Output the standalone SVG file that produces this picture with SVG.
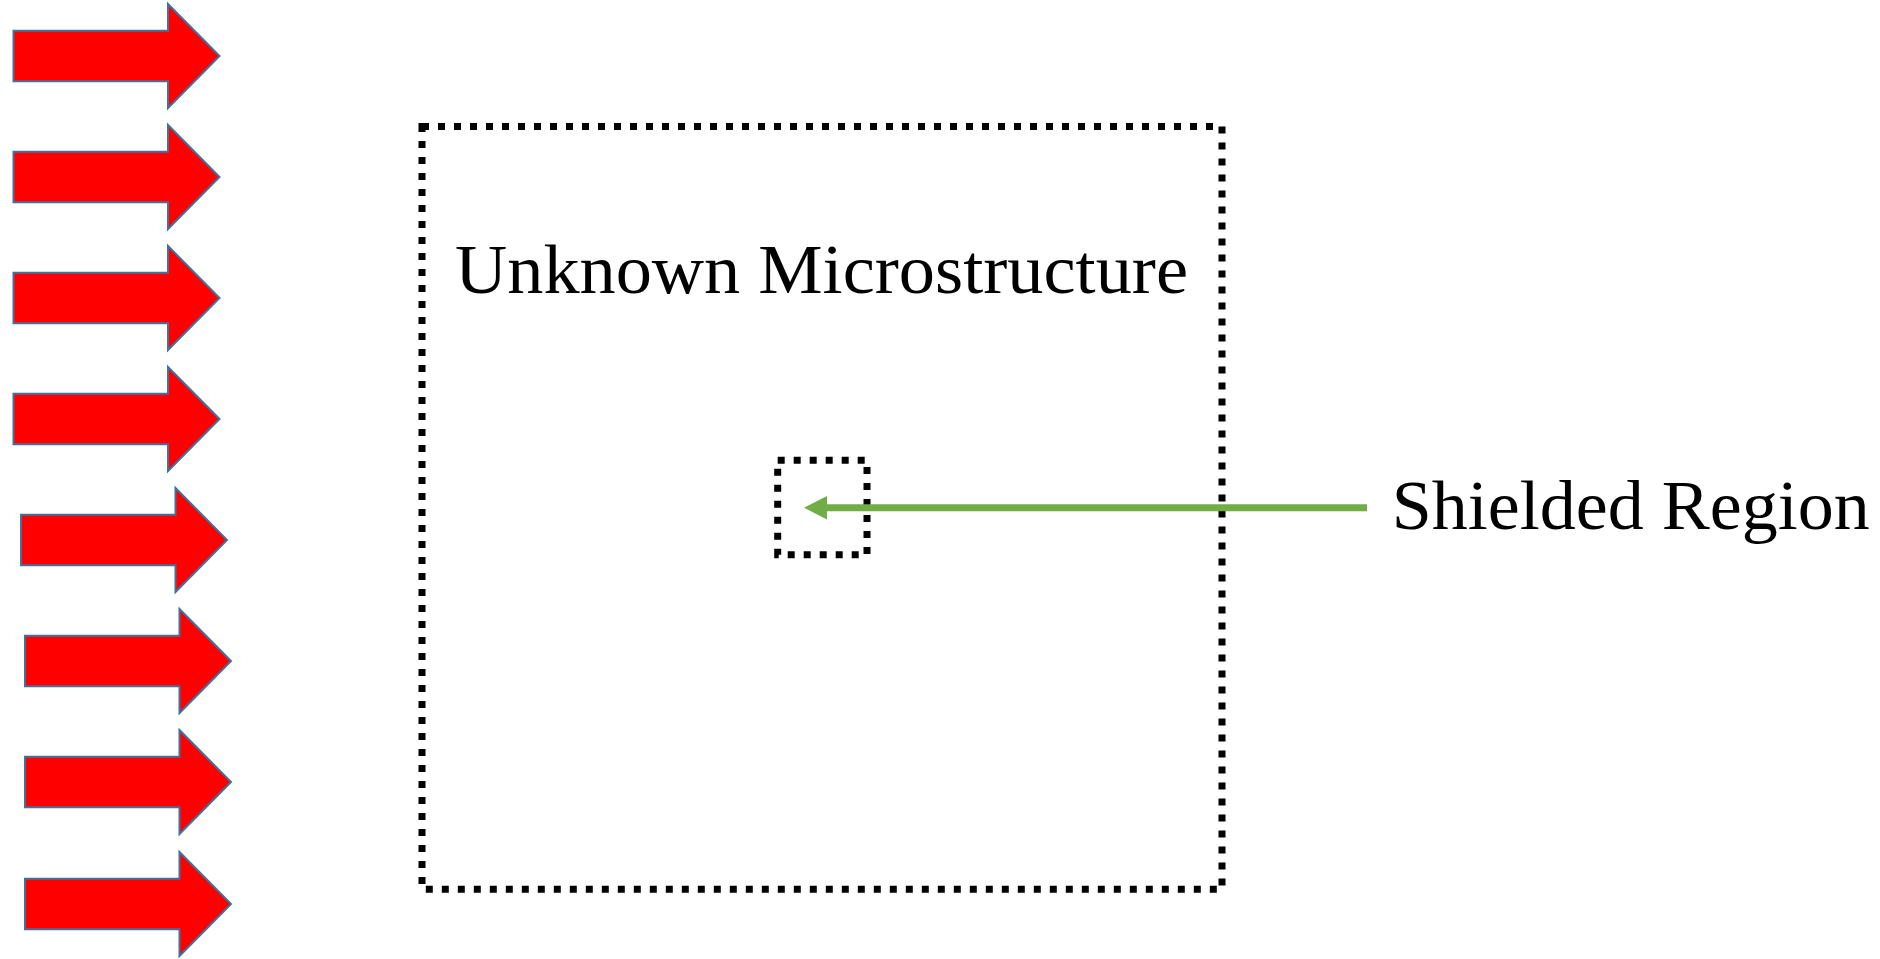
<svg xmlns="http://www.w3.org/2000/svg" width="1880" height="959" viewBox="0 0 1880 959">
  <style>
    .beam { fill: #ff0000; stroke: #41719c; stroke-width: 2; stroke-linejoin: miter; }
    .frame { fill: none; stroke: #000000; stroke-width: 7; stroke-dasharray: 7 9; }
    .label { font-family: "Liberation Serif", "DejaVu Serif", serif; font-size: 70px; fill: #000000; }
    .pointer { stroke: #70ad47; stroke-width: 7; fill: none; }
  </style>
  <defs>
    <!-- block arrow, centred vertically on y=0, starting at x=0 -->
    <path id="beam" class="beam" d="M0,-25.3 H154.5 V-52 L206,0 L154.5,52 V25.3 H0 Z"/>
  </defs>

  <rect width="1880" height="959" fill="#ffffff"/>

  <!-- incident beam arrows -->
  <g id="beams">
    <use href="#beam" x="13.5" y="56"/>
    <use href="#beam" x="13.5" y="177"/>
    <use href="#beam" x="13.5" y="298"/>
    <use href="#beam" x="13.5" y="419"/>
    <use href="#beam" x="21" y="540"/>
    <use href="#beam" x="25" y="661"/>
    <use href="#beam" x="25" y="782"/>
    <use href="#beam" x="25" y="904"/>
  </g>

  <!-- outer sample region -->
  <g id="microstructure">
    <rect class="frame" x="422" y="126.5" width="800" height="762.8"/>
    <text class="label" x="455" y="292.7" textLength="733" lengthAdjust="spacingAndGlyphs">Unknown Microstructure</text>
  </g>

  <!-- inner shielded region -->
  <g id="shielded-region">
    <rect class="frame" x="777.7" y="460.3" width="89.3" height="94.4"/>
  </g>

  <g id="shielded-label">
    <text class="label" x="1391.7" y="529.3" textLength="478" lengthAdjust="spacingAndGlyphs">Shielded Region</text>
  </g>

  <!-- connector from label to inner region -->
  <g id="connectors">
    <line class="pointer" x1="1367" y1="507.7" x2="825" y2="507.7"/>
    <polygon points="804,507.7 827,496 827,519.4" fill="#70ad47"/>
  </g>
</svg>
